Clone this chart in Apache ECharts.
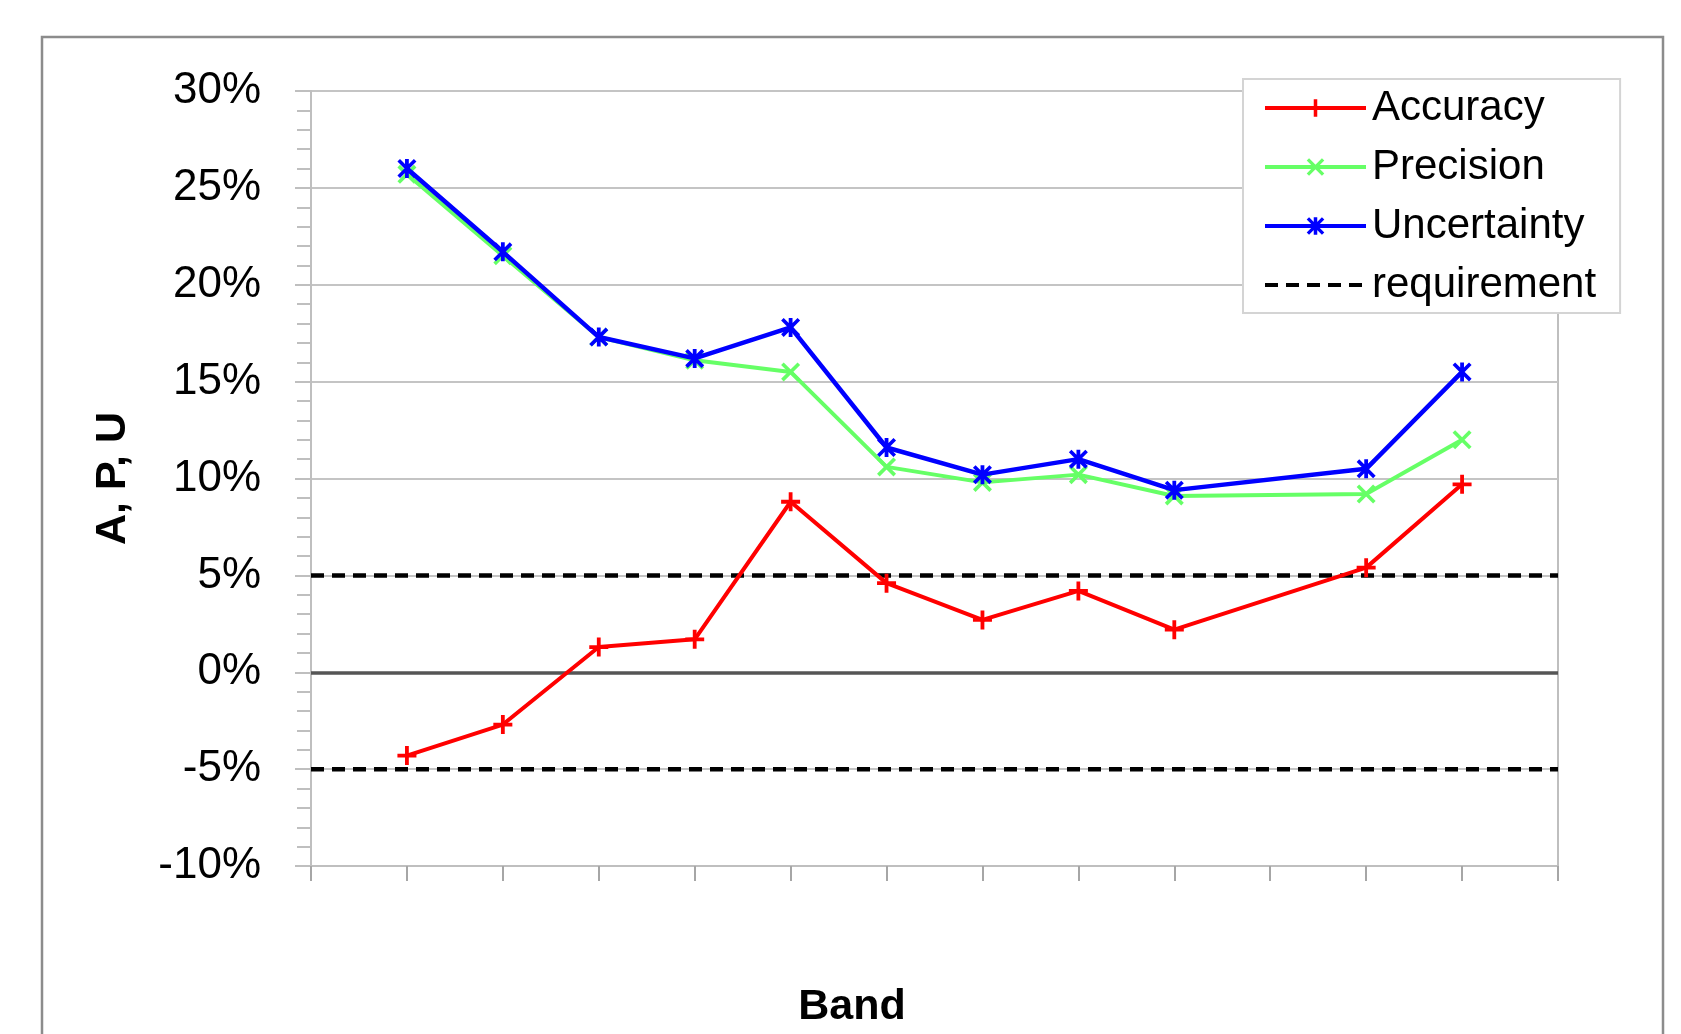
<!DOCTYPE html>
<html><head><meta charset="utf-8">
<script src="https://cdn.jsdelivr.net/npm/echarts@6/dist/echarts.min.js"></script>
<style>html,body{margin:0;padding:0;background:#fff}#chart{width:1681px;height:1034px}</style>
</head><body><div id="chart"></div>
<script>
// Band positions on the horizontal axis (axis runs 0..13)
const bandIndex = [1, 2, 3, 4, 5, 6, 7, 8, 9, 11, 12];
const bandRange = [0, 13];
// Series values in percent
const accuracy    = [-4.3, -2.7, 1.3, 1.7, 8.8, 4.6, 2.7, 4.2, 2.2, 5.4, 9.7];
const precision   = [25.7, 21.5, 17.3, 16.1, 15.5, 10.6, 9.8, 10.2, 9.1, 9.2, 12.0];
const uncertainty = [26.0, 21.7, 17.3, 16.2, 17.8, 11.6, 10.2, 11.0, 9.4, 10.5, 15.5];
const requirementLevels = [5, -5];
const yRange = [-10, 30];
const yStep = 5;
const seriesNames = ['Accuracy', 'Precision', 'Uncertainty', 'requirement'];

const FONT = 'Liberation Sans';
const plusPath  = 'path://M8,0 L12,0 L12,20 L8,20 Z M0,8 L20,8 L20,12 L0,12 Z';
const crossPath = 'path://M0,2.7 L2.7,0 L20,17.3 L17.3,20 Z M17.3,0 L20,2.7 L2.7,20 L0,17.3 Z';
const starPath  = 'path://M0,2.7 L2.7,0 L20,17.3 L17.3,20 Z M17.3,0 L20,2.7 L2.7,20 L0,17.3 Z M8,0 L12,0 L12,20 L8,20 Z';

const zip = (xs, ys) => xs.map((x, i) => [x, ys[i]]);

function lineSeries(name, values, color, symbol, width, z) {
  return {
    name, type: 'line', data: zip(bandIndex, values),
    symbol, symbolSize: 19, showSymbol: true,
    lineStyle: { color, width },
    itemStyle: { color },
    emphasis: { disabled: true },
    z
  };
}

const series = [
  Object.assign(lineSeries(seriesNames[0], accuracy, '#ff0000', plusPath, 4, 5), {
    markLine: {
      silent: true, symbol: 'none', label: { show: false },
      lineStyle: { color: '#555555', width: 3.5, type: 'solid' },
      data: [{ yAxis: 0 }]
    }
  }),
  lineSeries(seriesNames[1], precision, '#66ff66', crossPath, 4, 6),
  lineSeries(seriesNames[2], uncertainty, '#0000ff', starPath, 4.5, 7)
];
requirementLevels.forEach(level => {
  series.push({
    name: seriesNames[3], type: 'line',
    data: bandRange.map(x => [x, level]),
    symbol: 'none',
    lineStyle: { color: '#000000', width: 4.5, type: [13, 8] },
    itemStyle: { color: '#000000' },
    emphasis: { disabled: true },
    z: 4
  });
});

const chart = echarts.init(document.getElementById('chart'));
chart.setOption({
  backgroundColor: '#ffffff',
  animation: false,
  textStyle: { fontFamily: FONT },
  graphic: [{
    type: 'rect', silent: true, z: -10,
    shape: { x: 42, y: 37, width: 1621, height: 1100 },
    style: { fill: 'none', stroke: '#8c8c8c', lineWidth: 2.5 }
  }],
  grid: {
    left: 311, top: 91, right: 123, bottom: 167.5,
    show: true, borderColor: '#bfbfbf', borderWidth: 2, backgroundColor: 'transparent'
  },
  legend: {
    data: [
      { name: seriesNames[0] },
      { name: seriesNames[1] },
      { name: seriesNames[2] },
      { name: seriesNames[3], itemStyle: { opacity: 0 } }
    ],
    orient: 'vertical',
    left: 1243, top: 79,
    padding: [8, 24, 7, 20],
    itemGap: 17,
    itemWidth: 101, itemHeight: 22,
    lineStyle: { width: 4 },
    backgroundColor: '#ffffff',
    borderColor: '#d4d4d4', borderWidth: 2,
    textStyle: { fontFamily: FONT, fontSize: 42, color: '#000000', padding: [0, 0, 0, 1] },
    selectedMode: false
  },
  xAxis: {
    type: 'value', min: bandRange[0], max: bandRange[1], interval: 1,
    name: 'Band', nameLocation: 'middle', nameGap: 120,
    nameTextStyle: { fontFamily: FONT, fontSize: 43, fontWeight: 'bold', color: '#000', padding: [0, 165, 0, 0] },
    axisLine: { show: true, onZero: false, lineStyle: { color: '#bfbfbf', width: 2 } },
    axisTick: { show: true, length: 15, lineStyle: { color: '#a6a6a6', width: 2 } },
    axisLabel: { show: false },
    splitLine: { show: false }
  },
  yAxis: {
    type: 'value', min: yRange[0], max: yRange[1], interval: yStep,
    name: 'A, P, U', nameLocation: 'middle', nameGap: 176,
    nameTextStyle: { fontFamily: FONT, fontSize: 43, fontWeight: 'bold', color: '#000' },
    axisLine: { show: true, lineStyle: { color: '#bfbfbf', width: 2 } },
    axisTick: { show: true, length: 16, lineStyle: { color: '#bfbfbf', width: 2 } },
    minorTick: { show: true, splitNumber: 5, length: 14, lineStyle: { color: '#bfbfbf', width: 2 } },
    axisLabel: { formatter: '{value}%', fontFamily: FONT, fontSize: 44, color: '#000', margin: 50 },
    splitLine: { show: true, lineStyle: { color: '#c4c4c4', width: 2 } }
  },
  series
});
</script></body></html>
